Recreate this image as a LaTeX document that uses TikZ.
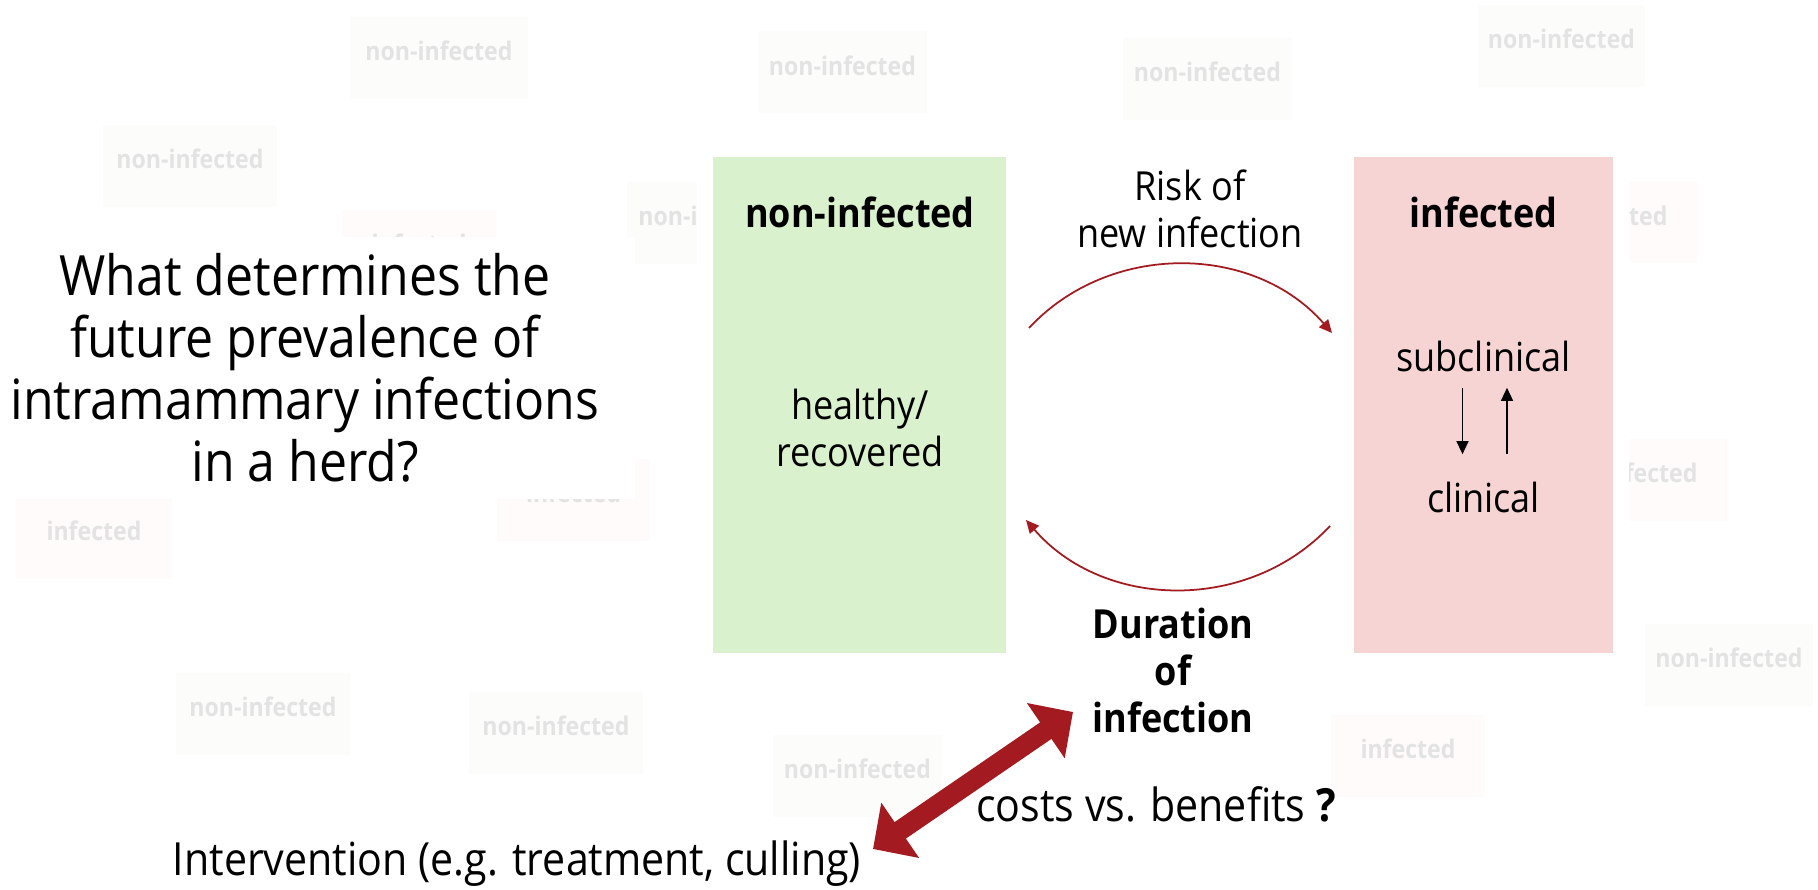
\documentclass[tikz,border=0pt]{standalone}
\usepackage{fontspec}
\setmainfont[FakeStretch=0.9]{Open Sans}
\usetikzlibrary{arrows.meta,positioning}

\definecolor{nongreen}{RGB}{218,241,206}
\definecolor{infpink}{RGB}{246,212,211}
\definecolor{darkred}{RGB}{163,27,32}
\definecolor{ghostgreen}{RGB}{252,253,250}
\definecolor{ghostpink}{RGB}{254,251,250}
\definecolor{ghosttext}{RGB}{227,227,227}

\begin{document}
\begin{tikzpicture}[
  font=\fontsize{11.4}{13.4}\selectfont,
  >={Triangle[length=1.3mm,width=1.2mm]},
  ghost/.style={rectangle, minimum height=8.2mm, text depth=1.4mm, inner sep=0pt, text=ghosttext, font=\fontsize{7.3}{8}\selectfont\bfseries},
  state/.style={rectangle, draw=white, line width=1.6mm, inner sep=0pt, minimum height=51.2mm},
  head/.style={anchor=base, font=\fontsize{11.4}{13.4}\selectfont\bfseries},
  note/.style={anchor=base, font=\fontsize{13}{15}\selectfont},
  flow/.style={->, draw=darkred, line width=0.5pt},
  bigarrow/.style={arrows={Triangle[length=3.3mm,width=6.5mm]-Triangle[length=3.3mm,width=6.5mm]}, draw=darkred, line width=2mm}
]

\useasboundingbox[fill=white] (0,0) rectangle (18.18,-8.90);

% faded boxes in the background
\foreach \gx/\gy/\gw/\gc/\gt [count=\i] in {
  4.39/-0.58/1.78/ghostgreen/non-infected,
  8.425/-0.725/1.69/ghostgreen/non-infected,
  12.075/-0.79/1.69/ghostgreen/non-infected,
  15.615/-0.46/1.67/ghostgreen/non-infected,
  1.90/-1.66/1.74/ghostgreen/non-infected,
  4.19/-2.51/1.54/ghostpink/infected,
  7.12/-2.23/1.70/ghostgreen/non-infected,
  16.20/-2.225/1.54/ghostpink/infected,
  5.735/-5.00/1.53/ghostpink/infected,
  0.94/-5.38/1.56/ghostpink/infected,
  16.50/-4.80/1.54/ghostpink/infected,
  17.29/-6.65/1.68/ghostgreen/non-infected,
  2.63/-7.14/1.74/ghostgreen/non-infected,
  5.56/-7.33/1.74/ghostgreen/non-infected,
  8.575/-7.76/1.69/ghostgreen/non-infected,
  14.08/-7.56/1.54/ghostpink/infected} {
  \node[ghost, fill=\gc, minimum width=\gw cm] (ghost\i) at (\gx,\gy) {\gt};
}

\node[fill=white, minimum width=6.6cm, minimum height=2.62cm, align=center, font=\fontsize{15.8}{17.6}\selectfont] (question) at (3.05,-3.68) {What determines the\\future prevalence of\\intramammary infections\\in a herd?};

\node[state, fill=nongreen, minimum width=30.9mm] (nonbox) at (8.595,-4.05) {};
\node[state, fill=infpink, minimum width=27.5mm] (infbox) at (14.835,-4.05) {};

\node[head] (nonlabel) at (8.60,-2.28) {non-infected};
\node[align=center] (healthy) at (8.60,-4.28) {healthy/\\recovered};
\node[head] (inflabel) at (14.835,-2.28) {infected};
\node[anchor=base] (sub) at (14.835,-3.72) {subclinical};
\node[anchor=base] (clin) at (14.835,-5.13) {clinical};

\draw[->, line width=0.4pt] ([xshift=-2.1mm,yshift=-0.3mm]sub.south) -- ([xshift=-2.1mm,yshift=1.6mm]clin.north);
\draw[->, line width=0.4pt] ([xshift=2.35mm,yshift=1.6mm]clin.north) -- ([xshift=2.35mm,yshift=-0.3mm]sub.south);

\node[align=center] (risk) at (11.90,-2.085) {Risk of\\new infection};
\node[align=center, font=\fontsize{11.4}{13.4}\selectfont\bfseries] (duration) at (11.73,-6.705) {Duration\\of\\infection};

\coordinate (riskfrom) at (10.29,-3.28);
\coordinate (riskto) at (13.32,-3.33);
\coordinate (durfrom) at (13.30,-5.26);
\coordinate (durto) at (10.26,-5.20);
\draw[flow] (riskfrom) to[bend left=48] (riskto);
\draw[flow] (durfrom) to[bend left=48] (durto);

\node[note] (costs) at (11.56,-8.22) {costs vs. benefits \textbf{?}};
\node[note] (interv) at (5.17,-8.76) {Intervention (e.g. treatment, culling)};

\coordinate (intertip) at (8.73,-8.49);
\coordinate (durtip) at (10.73,-7.12);
\draw[bigarrow] (intertip) -- (durtip);

\end{tikzpicture}
\end{document}
